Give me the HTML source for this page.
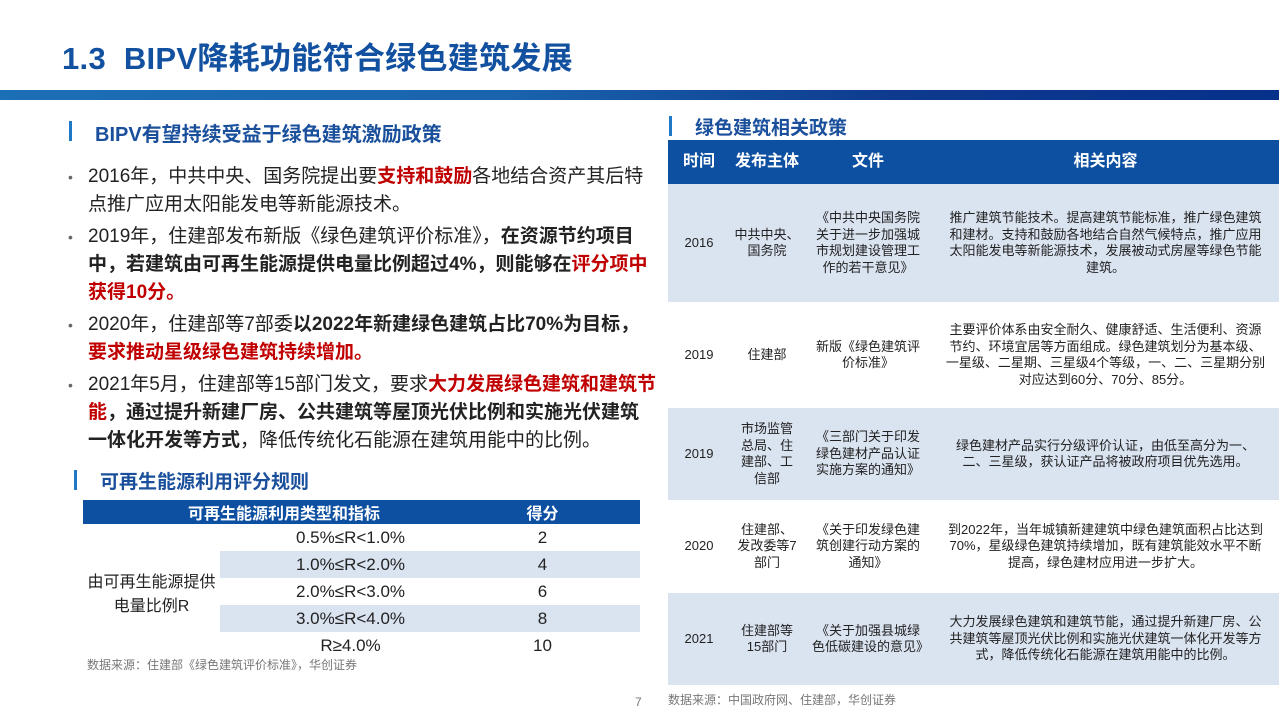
<!DOCTYPE html>
<html><head><meta charset="utf-8"><style>
*{margin:0;padding:0;box-sizing:border-box}
body{width:1279px;height:719px;position:relative;background:#fff;font-family:"Liberation Sans","Noto Sans CJK SC",sans-serif;overflow:hidden;color:#222}
.abs{position:absolute}
.title{left:62px;top:33px;font-size:31px;font-weight:bold;color:#1250a0;letter-spacing:0.3px}
.bar{left:0;top:90px;width:1279px;height:10px;background:linear-gradient(90deg,#1b6fb5 0%,#1a63ad 40%,#0d3a8f 70%,#06318a 100%)}
.sec{font-size:20px;font-weight:bold;color:#1a4f9c}
.sec:before{content:"";position:absolute;left:-26px;top:3px;width:3px;height:20px;background:#1f78c8}
.bul{left:68px;width:590px;font-size:19px;line-height:28px;color:#222}
.bul p{position:relative;padding-left:20px;margin-bottom:4px}
.bul p:before{content:"•";position:absolute;left:0;color:#666;font-size:14px}
.r{color:#c00000;font-weight:bold}.b{font-weight:bold}
table{border-collapse:collapse}
.lt{left:83px;top:500px;width:557px;font-size:17px}
.lt td,.lt th{text-align:center;padding:0;height:27px}
.lt td.i{padding-left:36px}
.lt th{background:#0d4fa0;color:#fff;height:20px;font-size:16px}
.s{background:#dae3f0}
.rt{left:668px;top:140px;width:611px;font-size:13px;line-height:16.5px;table-layout:fixed}
.rt th{background:#0d4fa0;color:#fff;height:44px;font-size:16px}
.rt td{text-align:center;padding:0 8px}
.rt td.c{padding:0 12px}
.rt td.p{padding:0 3px}
.rt tr.l td{background:#dae3f0}
.src{font-size:12px;color:#777}
</style></head><body>
<div class="abs title">1.3&nbsp; BIPV降耗功能符合绿色建筑发展</div>
<div class="abs bar"></div>
<div class="abs sec" style="left:95px;top:118px">BIPV有望持续受益于绿色建筑激励政策</div>
<div class="abs bul" style="top:163px">
<p>2016年，中共中央、国务院提出要<span class="r">支持和鼓励</span>各地结合资产其后特点推广应用太阳能发电等新能源技术。</p>
<p>2019年，住建部发布新版《绿色建筑评价标准》，<span class="b">在资源节约项目中，若建筑由可再生能源提供电量比例超过4%，则能够在</span><span class="r">评分项中获得10分。</span></p>
<p>2020年，住建部等7部委<span class="b">以2022年新建绿色建筑占比70%为目标，</span><span class="r">要求推动星级绿色建筑持续增加。</span></p>
<p>2021年5月，住建部等15部门发文，要求<span class="r">大力发展绿色建筑和建筑节能</span><span class="b">，通过提升新建厂房、公共建筑等屋顶光伏比例和实施光伏建筑一体化开发等方式</span>，降低传统化石能源在建筑用能中的比例。</p>
</div>
<div class="abs sec" style="left:100px;top:467px;font-size:19px">可再生能源利用评分规则</div>
<table class="abs lt">
<tr><th colspan="2" style="padding-left:40px">可再生能源利用类型和指标</th><th style="width:195px">得分</th></tr>
<tr><td rowspan="5" style="width:137px;font-size:16px">由可再生能源提供<br>电量比例R</td><td class="i">0.5%≤R&lt;1.0%</td><td>2</td></tr>
<tr><td class="s i">1.0%≤R&lt;2.0%</td><td class="s">4</td></tr>
<tr><td class="i">2.0%≤R&lt;3.0%</td><td>6</td></tr>
<tr><td class="s i">3.0%≤R&lt;4.0%</td><td class="s">8</td></tr>
<tr><td class="i">R≥4.0%</td><td>10</td></tr>
</table>
<div class="abs src" style="left:87px;top:656px">数据来源：住建部《绿色建筑评价标准》，华创证券</div>
<div class="abs src" style="left:635px;top:695px">7</div>
<div class="abs sec" style="left:695px;top:113px;font-size:19px">绿色建筑相关政策</div>
<table class="abs rt">
<tr><th style="width:62px">时间</th><th style="width:74px">发布主体</th><th style="width:128px">文件</th><th>相关内容</th></tr>
<tr class="l" style="height:118px"><td>2016</td><td class="p">中共中央、<br>国务院</td><td>《中共中央国务院关于进一步加强城市规划建设管理工作的若干意见》</td><td class="c">推广建筑节能技术。提高建筑节能标准，推广绿色建筑和建材。支持和鼓励各地结合自然气候特点，推广应用太阳能发电等新能源技术，发展被动式房屋等绿色节能建筑。</td></tr>
<tr style="height:106px"><td>2019</td><td class="p">住建部</td><td>新版《绿色建筑评价标准》</td><td class="c">主要评价体系由安全耐久、健康舒适、生活便利、资源节约、环境宜居等方面组成。绿色建筑划分为基本级、一星级、二星期、三星级4个等级，一、二、三星期分别对应达到60分、70分、85分。</td></tr>
<tr class="l" style="height:92px"><td>2019</td><td class="p">市场监管<br>总局、住<br>建部、工<br>信部</td><td>《三部门关于印发绿色建材产品认证实施方案的通知》</td><td class="c">绿色建材产品实行分级评价认证，由低至高分为一、二、三星级，获认证产品将被政府项目优先选用。</td></tr>
<tr style="height:93px"><td>2020</td><td class="p">住建部、<br>发改委等7<br>部门</td><td>《关于印发绿色建筑创建行动方案的通知》</td><td class="c">到2022年，当年城镇新建建筑中绿色建筑面积占比达到70%，星级绿色建筑持续增加，既有建筑能效水平不断提高，绿色建材应用进一步扩大。</td></tr>
<tr class="l" style="height:92px"><td>2021</td><td class="p">住建部等<br>15部门</td><td>《关于加强县城绿色低碳建设的意见》</td><td class="c">大力发展绿色建筑和建筑节能，通过提升新建厂房、公共建筑等屋顶光伏比例和实施光伏建筑一体化开发等方式，降低传统化石能源在建筑用能中的比例。</td></tr>
</table>
<div class="abs src" style="left:668px;top:691px">数据来源：中国政府网、住建部，华创证券</div>
</body></html>
